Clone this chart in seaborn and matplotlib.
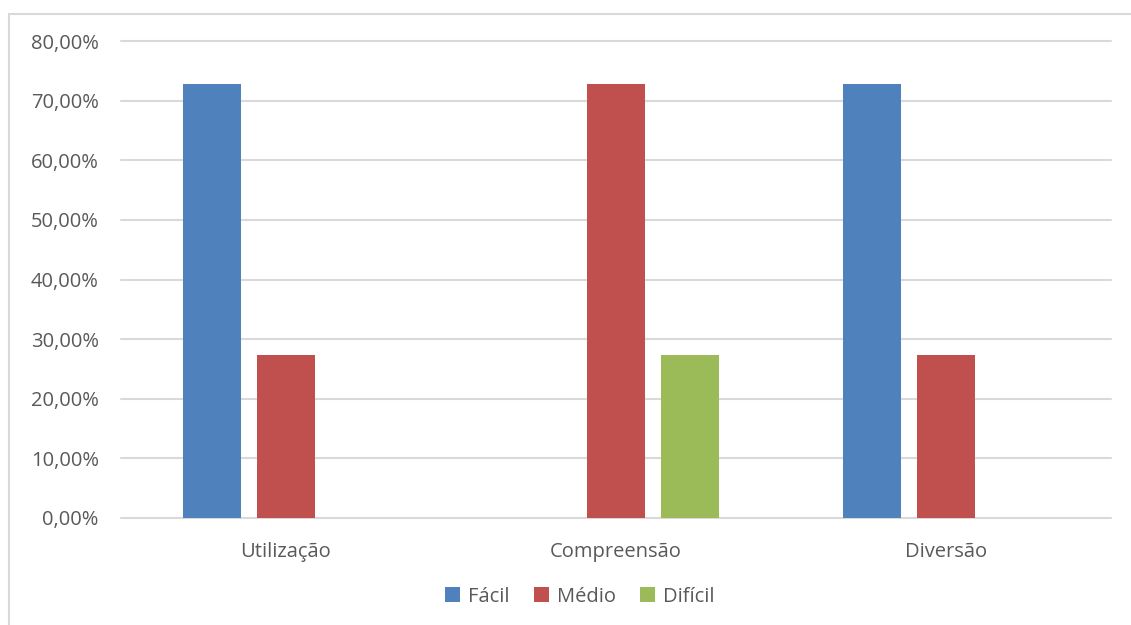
import matplotlib
matplotlib.use("Agg")
import matplotlib.pyplot as plt
from matplotlib.ticker import FuncFormatter, MultipleLocator
from matplotlib.patches import Rectangle
import seaborn as sns
import pandas as pd

categories = ["Utilização", "Compreensão", "Diversão"]
levels = ["Fácil", "Médio", "Difícil"]
facil = [0.7273, 0.0, 0.7273]
medio = [0.2727, 0.7273, 0.2727]
dificil = [0.0, 0.2727, 0.0]
colors = ["#4f81bd", "#c0504d", "#9bbb59"]

rows = []
for lvl, vals in zip(levels, [facil, medio, dificil]):
    for cat, v in zip(categories, vals):
        rows.append({"categoria": cat, "nivel": lvl, "valor": v})
df = pd.DataFrame(rows)

sns.set_theme(style="white")
plt.rcParams["font.family"] = ["Open Sans", "DejaVu Sans"]

fig = plt.figure(figsize=(11.31, 6.25), dpi=100)
ax = fig.add_axes([121 / 1131, 1 - 518 / 625, 990 / 1131, 477 / 625])

sns.barplot(data=df, x="categoria", y="valor", hue="nivel",
            order=categories, hue_order=levels, palette=colors,
            width=0.67, gap=0.21, saturation=1, ax=ax, errorbar=None,
            linewidth=0)

ax.set_ylim(0, 0.8)
ax.yaxis.set_major_locator(MultipleLocator(0.1))
ax.yaxis.set_major_formatter(
    FuncFormatter(lambda v, _: f"{v * 100:.2f}%".replace(".", ",")))
ax.grid(axis="y", color="#d9d9d9", linewidth=1.5)
for gl in ax.get_ygridlines():
    gl.set_clip_on(False)
ax.set_axisbelow(True)
for s in ax.spines.values():
    s.set_visible(False)
ax.tick_params(axis="y", length=0, labelsize=14.5, colors="#595959", pad=16)
ax.tick_params(axis="x", length=0, labelsize=14.5, colors="#595959", pad=17)
ax.set_xlabel("")
ax.set_ylabel("")

handles, labels = ax.get_legend_handles_labels()
ax.legend(handles, labels, ncol=3, loc="center",
          bbox_to_anchor=((580 - 121) / 990, -0.165), frameon=False,
          handlelength=0.75, handleheight=0.75, handletextpad=0.4,
          columnspacing=1.2, fontsize=14.5, labelcolor="#595959")

# outer chart frame
fig.patches.append(Rectangle((9 / 1131, -0.1), 1.2, 1 - 14 / 625 + 0.1,
                             transform=fig.transFigure, fill=False,
                             edgecolor="#d9d9d9", linewidth=1.5))

fig.savefig("out.png", dpi=100, facecolor="white")
